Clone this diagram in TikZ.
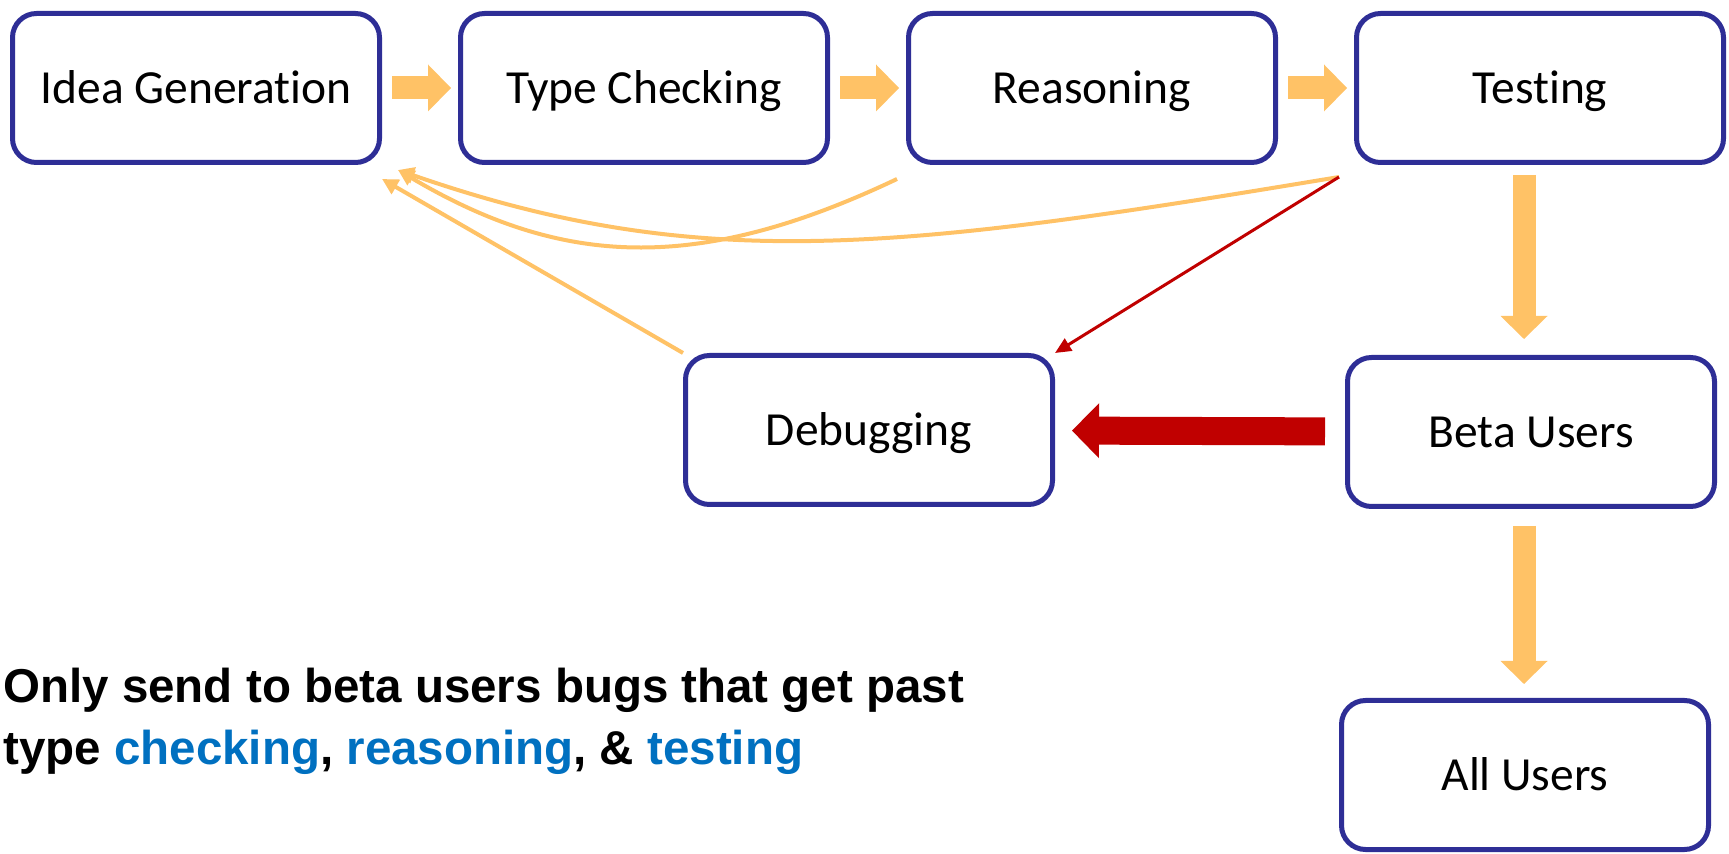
\documentclass[tikz,border=0pt]{standalone}
\usepackage{fontspec}
\setmainfont{Carlito}[RawFeature={-liga;-clig;-calt}]
\newfontfamily\notefont{Liberation Sans}
\usetikzlibrary{arrows.meta}
\definecolor{stageblue}{RGB}{46,46,150}
\definecolor{flowgold}{RGB}{255,194,102}
\definecolor{bugred}{RGB}{192,0,0}
\definecolor{hiblue}{RGB}{0,112,192}

\begin{document}
\begin{tikzpicture}[
  x=0.5pt, y=-0.5pt,
  stage/.style = {shape=rectangle, rounded corners=12pt, draw=stageblue,
    line width=2.5pt, fill=white, minimum width=183.5pt, minimum height=74.5pt,
    inner sep=0pt, font=\fontsize{23.75}{28}\selectfont,
    text height=20pt, text depth=4.75pt},
  flow/.style = {draw=flowgold, line width=11.5pt,
    -{Triangle[length=11.5pt, width=23.5pt, line width=0pt]}},
  bigflow/.style = {draw=bugred, line width=14pt,
    -{Triangle[length=13.5pt, width=27.5pt, line width=0pt]}},
  back/.style = {draw=flowgold, line width=2pt, -{Triangle[length=8pt, width=8pt]}},
  bug/.style = {draw=bugred, line width=1.5pt, -{Triangle[length=8pt, width=7pt]}},
  note/.style = {inner sep=0pt, font=\notefont\bfseries\fontsize{23.75}{28}\selectfont}
  ]
    \useasboundingbox (0,0) rectangle (1729,854);

    \node[stage] (idea)   at (196,88)  {Idea Generation};
    \node[stage] (type)   at (644,88)  {Type Checking};
    \node[stage] (reason) at (1092,88) {Reasoning};
    \node[stage] (test)   at (1540,88) {Testing};
    \node[stage] (debug)  at (869,430) {Debugging};
    \node[stage] (beta)   at (1531,432) {Beta Users};
    \node[stage] (all)    at (1525,775) {All Users};

    % pipeline
    \draw[flow, shorten <=5pt, shorten >=3.5pt] (idea) -- (type);
    \draw[flow, shorten <=5pt, shorten >=3.5pt] (type) -- (reason);
    \draw[flow, shorten <=5pt, shorten >=3.5pt] (reason) -- (test);
    \draw[flow, shorten <=5pt, shorten >=8pt] ([xshift=-8pt]test.south) -- ([xshift=-3.5pt]beta.north);
    \draw[flow, shorten <=8.5pt, shorten >=7pt] ([xshift=-3.5pt]beta.south) -- ([xshift=-0.5pt]all.north);
    \draw[bigflow, shorten <=10pt, shorten >=8.5pt] (beta) -- (debug);

    % going back
    \draw[back] ([shift={(-9,14)}]reason.south west)
      .. controls (695,275) and (560,266) .. ([shift={(16,5)}]idea.south east);
    \draw[back] ([shift={(-15,12)}]test.south west)
      .. controls (900,250) and (700,275) .. ([shift={(16,5)}]idea.south east);
    \draw[back] (debug.north west) -- ([shift={(0,14)}]idea.south east);
    \draw[bug] ([shift={(-15,12)}]test.south west) -- (debug.north east);

    \node[note, anchor=base west] (line1) at (3,703) {Only send to beta users bugs that get past};
    \node[note, anchor=base west] (line2) at (3,764)
      {type \textcolor{hiblue}{checking}, \textcolor{hiblue}{reasoning}, \& \textcolor{hiblue}{testing}};
\end{tikzpicture}
\end{document}
